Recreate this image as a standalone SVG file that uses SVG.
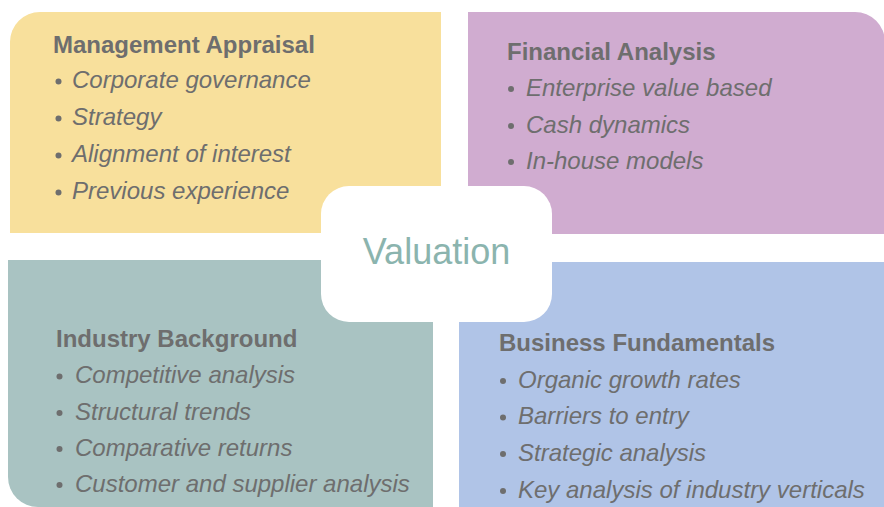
<svg xmlns="http://www.w3.org/2000/svg" width="884" height="507" viewBox="0 0 884 507">
<style>
.h{font-family:"Liberation Sans",Arial,sans-serif;font-weight:bold;font-size:24px;fill:#6E6E6E}
.i{font-family:"Liberation Sans",Arial,sans-serif;font-style:italic;font-size:24px;fill:#6E6E6E}
.b{fill:#6E6E6E}
</style>
<rect width="884" height="507" fill="#FFFFFF"/>
<g id="management">
<path d="M10,42 A30,30 0 0 1 40,12 H441 V233 H10 Z" fill="#F8E09C"/>
<text class="h" x="53" y="53">Management Appraisal</text>
<circle class="b" cx="58.5" cy="81.5" r="3"/><text class="i" x="72" y="88">Corporate governance</text>
<circle class="b" cx="58.5" cy="118.5" r="3"/><text class="i" x="72" y="125">Strategy</text>
<circle class="b" cx="58.5" cy="155.5" r="3"/><text class="i" x="72" y="162">Alignment of interest</text>
<circle class="b" cx="58.5" cy="192.5" r="3"/><text class="i" x="72" y="199">Previous experience</text>
</g>
<g id="financial">
<path d="M468,12 H855 A30,30 0 0 1 885,42 V234 H468 Z" fill="#D0ACD0"/>
<text class="h" x="507" y="60">Financial Analysis</text>
<circle class="b" cx="511" cy="89" r="3"/><text class="i" x="526" y="96">Enterprise value based</text>
<circle class="b" cx="511" cy="126" r="3"/><text class="i" x="526" y="133">Cash dynamics</text>
<circle class="b" cx="511" cy="162" r="3"/><text class="i" x="526" y="169">In-house models</text>
</g>
<g id="industry">
<path d="M8,260 H433 V507 H38 A30,30 0 0 1 8,477 Z" fill="#A9C3C2"/>
<text class="h" x="56" y="347">Industry Background</text>
<circle class="b" cx="59.5" cy="376.5" r="3"/><text class="i" x="75" y="383">Competitive analysis</text>
<circle class="b" cx="59.5" cy="413" r="3"/><text class="i" x="75" y="420">Structural trends</text>
<circle class="b" cx="59.5" cy="449" r="3"/><text class="i" x="75" y="456">Comparative returns</text>
<circle class="b" cx="59.5" cy="485" r="3"/><text class="i" x="75" y="492">Customer and supplier analysis</text>
</g>
<g id="business">
<path d="M459,262 H884 V507 H459 Z" fill="#B0C4E7"/>
<text class="h" x="499" y="351">Business Fundamentals</text>
<circle class="b" cx="503" cy="381" r="3"/><text class="i" x="518" y="388">Organic growth rates</text>
<circle class="b" cx="503" cy="417.5" r="3"/><text class="i" x="518" y="424">Barriers to entry</text>
<circle class="b" cx="503" cy="454" r="3"/><text class="i" x="518" y="461">Strategic analysis</text>
<circle class="b" cx="503" cy="491" r="3"/><text class="i" x="518" y="498">Key analysis of industry verticals</text>
</g>
<g id="valuation">
<rect x="321" y="186" width="231" height="136" rx="28" ry="28" fill="#FFFFFF"/>
<text x="436.5" y="264" text-anchor="middle" font-family="Liberation Sans, Arial, sans-serif" font-size="36" fill="#8BB4AE">Valuation</text>
</g>
</svg>
